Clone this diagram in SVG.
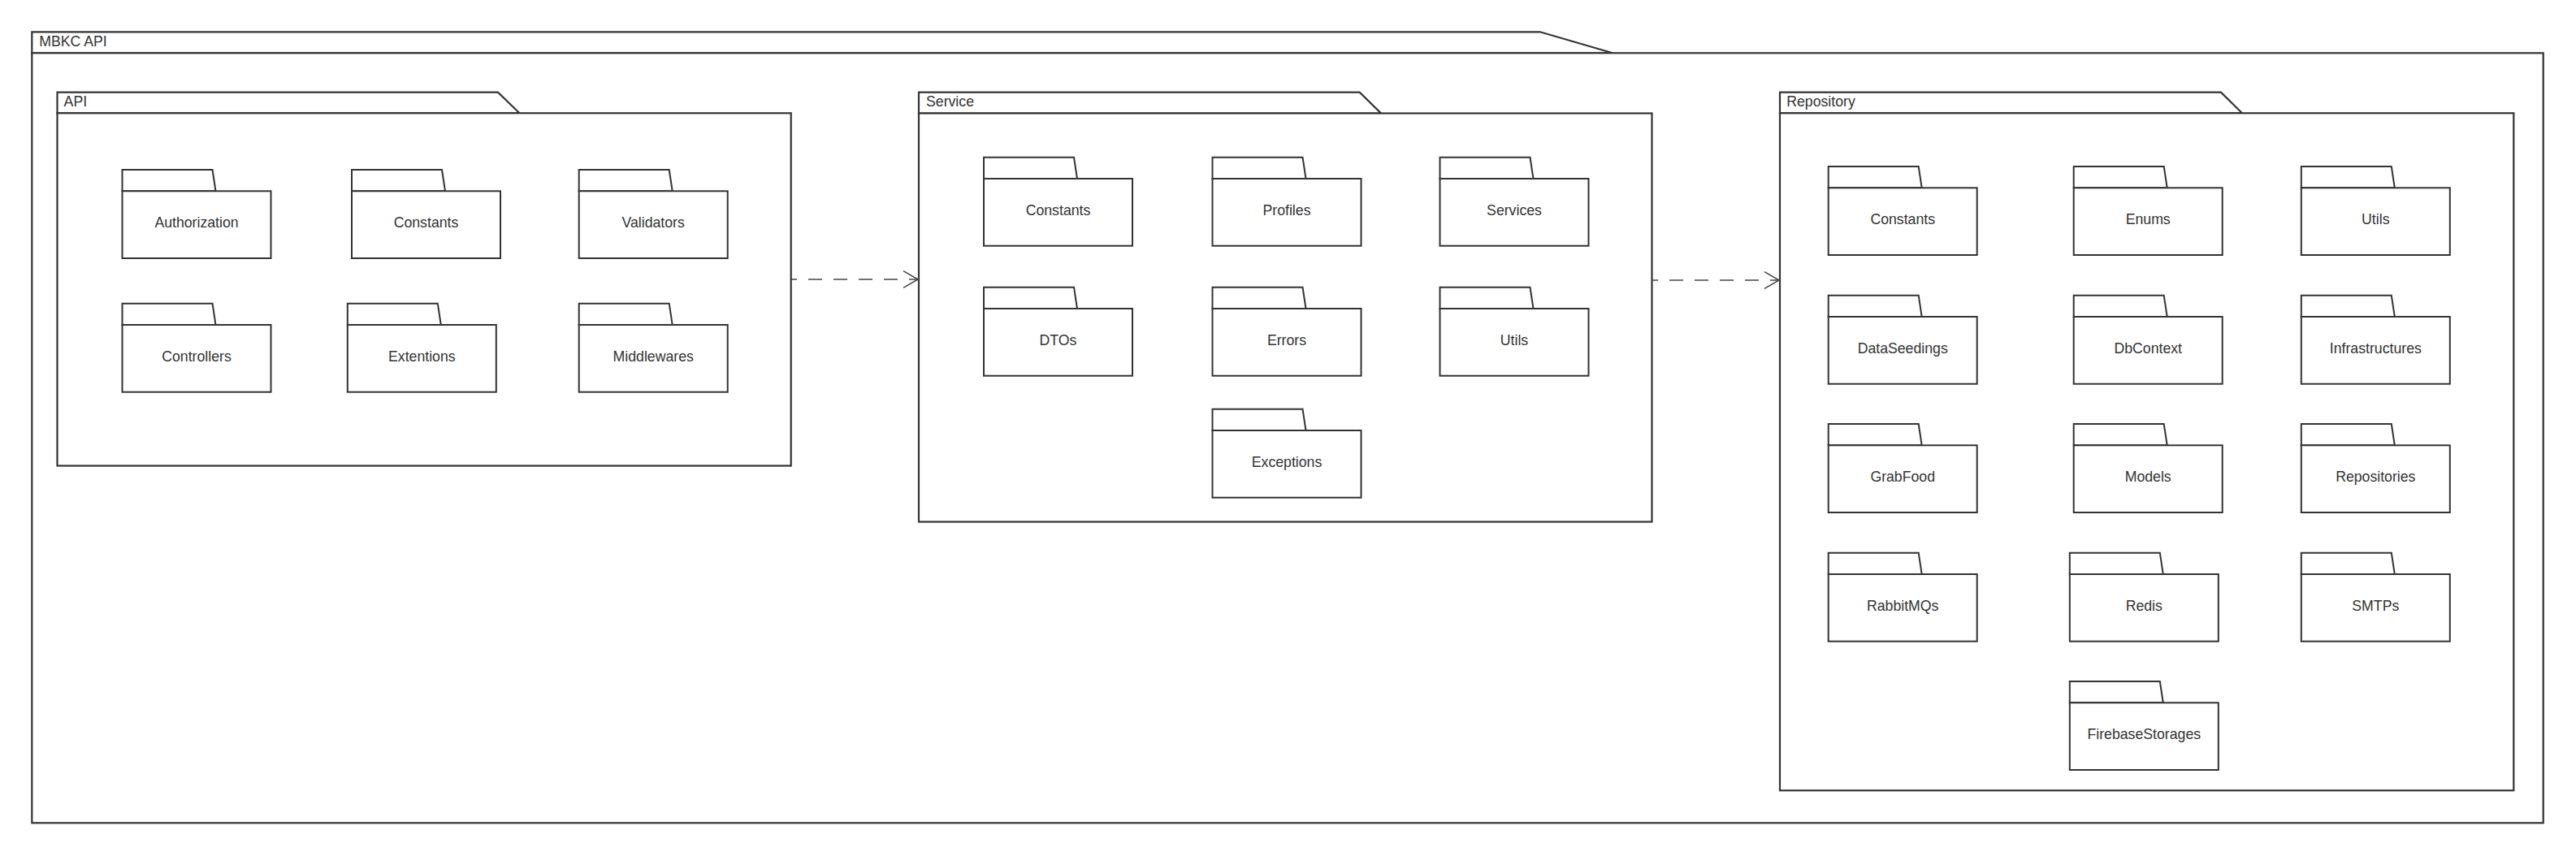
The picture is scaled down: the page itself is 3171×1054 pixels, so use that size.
<svg xmlns="http://www.w3.org/2000/svg" xmlns:xlink="http://www.w3.org/1999/xlink" width="3171" height="1054" viewBox="0 0 3171 1054">
<style>
.ln{fill:#fff;stroke:#333;stroke-width:2.2;stroke-linejoin:miter}
.pk{fill:#fff;stroke:#333;stroke-width:2}
.ft{font-family:"Liberation Sans",Arial,sans-serif;font-size:17.7px;fill:#333}
.pt{font-family:"Liberation Sans",Arial,sans-serif;font-size:17.7px;fill:#333;text-anchor:middle}
.dash{fill:none;stroke:#444;stroke-width:1.5;stroke-dasharray:17 14}
.head{fill:none;stroke:#444;stroke-width:1.5}
</style>
<defs>
<g id="pkg">
<path class="pk" d="M0,26.3 V0 H111 L115,26.3 Z"/>
<rect class="pk" x="0" y="26.3" width="183" height="82.7"/>
</g>
</defs>
<rect width="3171" height="1054" fill="#fff"/>

<g id="frame-mbkc">
<path class="ln" d="M39.3,65.3 V39.3 H1895.7 L1985,65.3 Z"/>
<rect class="ln" x="39.3" y="65.3" width="3091.4" height="948"/>
<text class="ft" x="48.2" y="57.3">MBKC API</text>
</g>

<g id="frame-api">
<path class="ln" d="M70.5,139.3 V113.7 H613 L639.5,139.3 Z"/>
<rect class="ln" x="70.5" y="139.3" width="903.2" height="434.2"/>
<text class="ft" x="78.6" y="131">API</text>
</g>

<g id="frame-service">
<path class="ln" d="M1131,139.5 V113.7 H1673.7 L1700,139.5 Z"/>
<rect class="ln" x="1131" y="139.5" width="902.5" height="503"/>
<text class="ft" x="1140" y="131">Service</text>
</g>

<g id="frame-repository">
<path class="ln" d="M2191,139.3 V113.7 H2734 L2760,139.3 Z"/>
<rect class="ln" x="2191" y="139.3" width="903.3" height="834"/>
<text class="ft" x="2199.2" y="131">Repository</text>
</g>

<g id="api-authorization"><use xlink:href="#pkg" transform="translate(150.5,209)"/><text class="pt" x="242" y="280">Authorization</text></g>
<g id="api-constants"><use xlink:href="#pkg" transform="translate(433,209)"/><text class="pt" x="524.5" y="280">Constants</text></g>
<g id="api-validators"><use xlink:href="#pkg" transform="translate(712.7,209)"/><text class="pt" x="804.2" y="280">Validators</text></g>
<g id="api-controllers"><use xlink:href="#pkg" transform="translate(150.5,373.7)"/><text class="pt" x="242" y="444.7">Controllers</text></g>
<g id="api-extentions"><use xlink:href="#pkg" transform="translate(427.8,373.7)"/><text class="pt" x="519.3" y="444.7">Extentions</text></g>
<g id="api-middlewares"><use xlink:href="#pkg" transform="translate(712.7,373.7)"/><text class="pt" x="804.2" y="444.7">Middlewares</text></g>

<g id="svc-constants"><use xlink:href="#pkg" transform="translate(1211,193.7)"/><text class="pt" x="1302.5" y="264.7">Constants</text></g>
<g id="svc-profiles"><use xlink:href="#pkg" transform="translate(1492.5,193.7)"/><text class="pt" x="1584" y="264.7">Profiles</text></g>
<g id="svc-services"><use xlink:href="#pkg" transform="translate(1772.5,193.7)"/><text class="pt" x="1864" y="264.7">Services</text></g>
<g id="svc-dtos"><use xlink:href="#pkg" transform="translate(1211,353.7)"/><text class="pt" x="1302.5" y="424.7">DTOs</text></g>
<g id="svc-errors"><use xlink:href="#pkg" transform="translate(1492.5,353.7)"/><text class="pt" x="1584" y="424.7">Errors</text></g>
<g id="svc-utils"><use xlink:href="#pkg" transform="translate(1772.5,353.7)"/><text class="pt" x="1864" y="424.7">Utils</text></g>
<g id="svc-exceptions"><use xlink:href="#pkg" transform="translate(1492.5,503.7)"/><text class="pt" x="1584" y="574.7">Exceptions</text></g>

<g id="repo-constants"><use xlink:href="#pkg" transform="translate(2250.7,205)"/><text class="pt" x="2342.2" y="276">Constants</text></g>
<g id="repo-enums"><use xlink:href="#pkg" transform="translate(2552.7,205)"/><text class="pt" x="2644.2" y="276">Enums</text></g>
<g id="repo-utils"><use xlink:href="#pkg" transform="translate(2832.8,205)"/><text class="pt" x="2924.3" y="276">Utils</text></g>
<g id="repo-dataseedings"><use xlink:href="#pkg" transform="translate(2250.7,363.7)"/><text class="pt" x="2342.2" y="434.7">DataSeedings</text></g>
<g id="repo-dbcontext"><use xlink:href="#pkg" transform="translate(2552.7,363.7)"/><text class="pt" x="2644.2" y="434.7">DbContext</text></g>
<g id="repo-infrastructures"><use xlink:href="#pkg" transform="translate(2832.8,363.7)"/><text class="pt" x="2924.3" y="434.7">Infrastructures</text></g>
<g id="repo-grabfood"><use xlink:href="#pkg" transform="translate(2250.7,522)"/><text class="pt" x="2342.2" y="593">GrabFood</text></g>
<g id="repo-models"><use xlink:href="#pkg" transform="translate(2552.7,522)"/><text class="pt" x="2644.2" y="593">Models</text></g>
<g id="repo-repositories"><use xlink:href="#pkg" transform="translate(2832.8,522)"/><text class="pt" x="2924.3" y="593">Repositories</text></g>
<g id="repo-rabbitmqs"><use xlink:href="#pkg" transform="translate(2250.7,680.7)"/><text class="pt" x="2342.2" y="751.7">RabbitMQs</text></g>
<g id="repo-redis"><use xlink:href="#pkg" transform="translate(2547.8,680.7)"/><text class="pt" x="2639.3" y="751.7">Redis</text></g>
<g id="repo-smtps"><use xlink:href="#pkg" transform="translate(2832.8,680.7)"/><text class="pt" x="2924.3" y="751.7">SMTPs</text></g>
<g id="repo-firebasestorages"><use xlink:href="#pkg" transform="translate(2547.8,839)"/><text class="pt" x="2639.3" y="910">FirebaseStorages</text></g>

<g id="connectors">
<line class="dash" x1="974" y1="344" x2="1130" y2="344" stroke-dashoffset="10"/>
<polyline class="head" points="1112,333.7 1130,344 1112,354.3"/>
<line class="dash" x1="2034" y1="345" x2="2190" y2="345" stroke-dashoffset="10"/>
<polyline class="head" points="2172,334.7 2190,345 2172,355.3"/>
</g>
</svg>
